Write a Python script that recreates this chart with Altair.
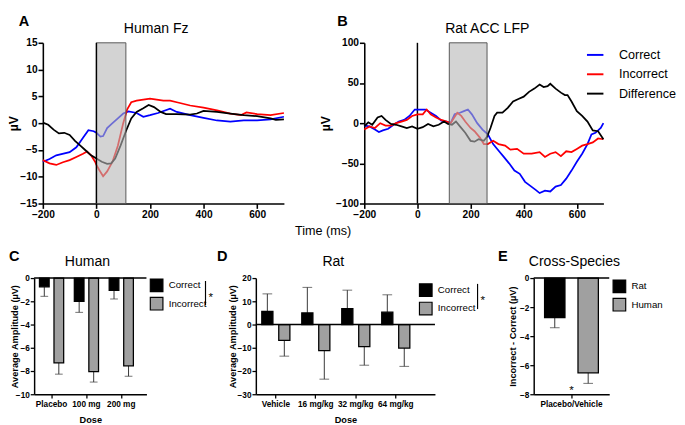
import altair as alt
import pandas as pd

FONT = "Liberation Sans"
SERIES = ["Correct", "Incorrect", "Difference"]
SERIES_COLORS = ["#0000ff", "#ff0000", "#000000"]

a_correct_t = [-200, -175, -150, -100, -75, -50, -30, -10, 0, 15, 25, 40, 60, 80, 100, 120, 150, 175, 200, 230,
               275, 300, 350, 400, 450, 500, 550, 600, 650, 700]
a_correct_v = [-7.2, -6.7, -6.0, -5.4, -4.5, -2.7, -1.3, -1.5, -1.8, -2.5, -2.4, -0.9, 0.0, 0.9, 1.8, 2.2, 1.9,
               1.2, 1.5, 1.9, 2.7, 2.1, 1.5, 1.0, 0.5, 0.3, 0.5, 0.5, 0.7, 1.2]
a_incorrect_t = [-200, -175, -150, -125, -100, -75, -50, -35, -20, -5, 0, 10, 25, 40, 60, 80, 100, 115, 130, 150,
                 175, 200, 225, 250, 275, 300, 350, 400, 450, 500, 540, 560, 600, 650, 700]
a_incorrect_v = [-6.9, -7.5, -7.8, -7.3, -6.9, -6.3, -5.7, -5.3, -6.0, -7.2, -7.8, -8.7, -9.9, -9.0, -7.2, -4.2,
                 0.0, 2.6, 3.9, 4.2, 4.4, 4.6, 4.4, 4.2, 4.2, 3.9, 3.3, 2.9, 2.4, 1.8, 1.5, 2.0, 1.7, 1.5, 1.9]
a_diff_t = [-200, -180, -160, -140, -120, -100, -80, -60, -40, -20, 0, 20, 40, 55, 70, 90, 110, 130, 150, 175,
            195, 215, 240, 260, 300, 350, 375, 400, 450, 500, 550, 600, 650, 670, 700]
a_diff_v = [0.1, -0.3, -1.2, -1.9, -1.8, -2.2, -3.3, -4.2, -5.1, -6.0, -6.6, -7.2, -7.6, -7.5, -6.6, -4.2, -1.5,
            0.9, 2.1, 2.8, 3.4, 3.0, 2.1, 1.7, 1.7, 1.6, 1.8, 2.3, 2.1, 1.8, 1.5, 1.3, 0.9, 0.6, 0.7]
a_shade = [0, 110]

b_correct_t = [-200, -180, -160, -145, -130, -110, -90, -70, -50, -30, -20, -10, 10, 30, 50, 70, 90, 110, 125,
               140, 160, 175, 190, 205, 225, 245, 265, 285, 305, 325, 345, 365, 385, 405, 425, 445, 460, 480,
               500, 520, 540, 560, 580, 600, 620, 640, 655, 670, 690, 700]
b_correct_v = [-3, -4, -8, -11, -9, -7, -2, 2, 4, 9, 13, 17, 17, 17, 13, 9, 3, 2, 0, 11, 13, 15, 17, 11, 0, -8,
               -14, -26, -34, -42, -50, -59, -63, -73, -78, -83, -87, -84, -85, -79, -77, -69, -59, -48, -38,
               -26, -14, -12, -6, 0]
b_incorrect_t = [-200, -180, -160, -140, -120, -100, -80, -60, -40, -20, 0, 20, 35, 50, 70, 90, 110, 125, 150,
                 165, 180, 200, 215, 235, 250, 265, 285, 305, 330, 350, 375, 400, 430, 460, 480, 500, 520, 540,
                 560, 580, 600, 620, 640, 660, 680, 700]
b_incorrect_v = [-8, -4, -6, 0, -3, -3, 0, 2, 4, 9, 11, 11, 17, 11, 7, 4, 2, 0, 13, 9, 2, -6, -10, -18, -26, -26,
                 -22, -26, -28, -33, -32, -38, -38, -36, -42, -38, -36, -41, -35, -36, -32, -28, -26, -24, -19,
                 -20]
b_diff_t = [-200, -185, -170, -150, -135, -120, -100, -80, -60, -40, -20, 0, 20, 40, 60, 80, 100, 115, 130, 145,
            160, 180, 200, 215, 230, 250, 262, 275, 290, 300, 320, 340, 360, 380, 400, 420, 440, 460, 475, 490,
            500, 520, 540, 555, 565, 580, 600, 620, 640, 660, 680, 700]
b_diff_v = [-4, 1, -2, 7, 9, 4, -1, -2, -4, -6, -4, -7, -5, -1, -4, -2, 2, -1, -2, 2, -4, -12, -22, -23, -20, -22,
            -17, -6, 9, 13, 13, 19, 27, 30, 33, 39, 43, 48, 45, 46, 49, 43, 38, 35, 35, 27, 15, 9, 2, -9, -10, -20]
b_shade = [120, 262]

c_groups = ["Placebo", "100 mg", "200 mg"]
c_conds = ["Correct", "Incorrect"]
c_correct = [-0.75, -2.0, -1.05]
c_correct_err = [-1.57, -2.95, -1.8]
c_incorrect = [-7.3, -8.05, -7.55]
c_incorrect_err = [-8.27, -8.95, -8.45]

d_groups = ["Vehicle", "16 mg/kg", "32 mg/kg", "64 mg/kg"]
d_conds = ["Correct", "Incorrect"]
d_correct = [5.7, 5.0, 6.8, 5.3]
d_correct_err = [13.2, 16.0, 14.8, 12.8]
d_incorrect = [-6.8, -11.2, -9.5, -10.1]
d_incorrect_err = [-13.6, -23.5, -17.5, -18.0]

e_groups = ["Placebo/Vehicle"]
e_species = ["Rat", "Human"]
e_values = [-2.72, -6.52]
e_errs = [-3.42, -7.25]

BAR_COLORS = ["#000000", "#a0a0a0"]


def text_layer(text, x, y, size, weight="normal", align="left", baseline="alphabetic", color="black"):
    return alt.Chart(pd.DataFrame({"label": [text]})).mark_text(
        font=FONT, fontSize=size, fontWeight=weight, align=align, baseline=baseline, color=color
    ).encode(text="label:N", x=alt.value(x), y=alt.value(y))


def rule_layer(x, y, y2, width=1.2, color="black"):
    return alt.Chart(pd.DataFrame({"k": [0]})).mark_rule(color=color, strokeWidth=width).encode(
        x=alt.value(x), y=alt.value(y), y2=alt.value(y2))


ERP_AXIS = dict(domainColor="black", domainWidth=1.6, tickColor="black", tickWidth=1.6, tickSize=5,
                labelFont=FONT, labelFontSize=10.5, labelFontWeight="bold", labelColor="black",
                labelPadding=1, labelFlush=False, labelOverlap=False, grid=False,
                titleFont=FONT, titleColor="black")

BAR_AXIS = dict(domainColor="black", domainWidth=1.5, tickColor="black", tickWidth=1.3, tickSize=4,
                labelFont=FONT, labelFontSize=8.5, labelFontWeight="bold", labelColor="black",
                labelPadding=1, labelFlush=False, labelOverlap=False, grid=False,
                titleFont=FONT, titleColor="black", titleFontSize=9.5, titleFontWeight="bold")


def erp_panel(series, shade, ydomain, yticks, W, H, letter, letter_x, title, title_x, ytitle_x,
              show_time, legend, zero_after):
    rows = []
    for name, (ts, vs) in zip(SERIES, series):
        for t, v in zip(ts, vs):
            rows.append({"time": t, "value": v, "series": name})
    df = pd.DataFrame(rows)
    xscale = alt.Scale(domain=[-200, 700], nice=False, zero=False)
    yscale = alt.Scale(domain=ydomain, nice=False, zero=False)
    if show_time:
        xaxis = alt.Axis(values=[-200, 0, 200, 400, 600], title="Time (ms)", titleX=289, titleY=28,
                         titleBaseline="middle", titleFontSize=13, titleFontWeight="normal", **ERP_AXIS)
    else:
        xaxis = alt.Axis(values=[-200, 0, 200, 400, 600], title=None, **ERP_AXIS)
    yaxis = alt.Axis(values=yticks, title="µV", titleX=ytitle_x, titleBaseline="alphabetic",
                     titleFontSize=12.5, titleFontWeight="bold", **ERP_AXIS)
    lines = alt.Chart(df).mark_line(strokeWidth=1.8).encode(
        x=alt.X("time:Q", scale=xscale, axis=xaxis),
        y=alt.Y("value:Q", scale=yscale, axis=yaxis),
        color=alt.Color("series:N", sort=SERIES, scale=alt.Scale(domain=SERIES, range=SERIES_COLORS),
                        legend=legend),
    )
    rect = alt.Chart(pd.DataFrame({"time": [shade[0]], "time_end": [shade[1]]})).mark_rect(
        fill="#b5b5b5", fillOpacity=0.6, stroke="#555555", strokeWidth=1
    ).encode(x=alt.X("time:Q", scale=xscale, axis=xaxis), x2="time_end:Q", y=alt.value(0), y2=alt.value(H))
    zero = alt.Chart(pd.DataFrame({"time": [0]})).mark_rule(color="black", strokeWidth=1.5).encode(
        x=alt.X("time:Q", scale=xscale, axis=xaxis), y=alt.value(0), y2=alt.value(H))
    layers = [lines, rect, zero] if zero_after else [zero, lines, rect]
    layers += [text_layer(letter, letter_x, -17, 15, "bold"),
               text_layer(title, title_x, -10, 14.5, "normal", "center")]
    return alt.layer(*layers).properties(width=W, height=H)


def bar_panel(groups, conds, values, errs, W, H, ydomain, yticks, ytitle, ytitle_x, xtitle,
              x_po, off_pi, off_po, cap, legend_x, legend_y, row_pad, extras):
    gs, cs, vs, es = [], [], [], []
    for ci, c in enumerate(conds):
        for gi, g in enumerate(groups):
            gs.append(g)
            cs.append(c)
            vs.append(values[ci][gi])
            es.append(errs[ci][gi])
    df = pd.DataFrame({"group": gs, "cond": cs, "value": vs, "err": es})
    xaxis_kw = dict(BAR_AXIS)
    xaxis_kw["labelPadding"] = 2
    xaxis = alt.Axis(title=xtitle, labelAngle=0, titlePadding=7, **xaxis_kw)
    yaxis = alt.Axis(values=yticks, title=ytitle, titleX=ytitle_x, titleBaseline="alphabetic", **BAR_AXIS)
    yscale = alt.Scale(domain=ydomain, nice=False)
    xenc = alt.X("group:N", sort=groups, scale=alt.Scale(paddingInner=0, paddingOuter=x_po, align=0),
                 axis=xaxis)
    offenc = alt.XOffset("cond:N", sort=conds, scale=alt.Scale(paddingInner=off_pi, paddingOuter=off_po))
    legend = alt.Legend(orient="none", legendX=legend_x, legendY=legend_y, title=None, symbolType="square",
                        symbolSize=170, symbolStrokeColor="black", symbolStrokeWidth=1.2,
                        labelFont=FONT, labelFontSize=10, labelColor="black", labelOffset=5,
                        rowPadding=row_pad, padding=0)
    errbar = alt.Chart(df).mark_rule(color="#333333", strokeWidth=1).encode(
        x=xenc, xOffset=offenc, y=alt.Y("value:Q", scale=yscale, axis=yaxis), y2="err:Q")
    caps = alt.Chart(df).mark_tick(color="#333333", thickness=1, size=cap, orient="horizontal").encode(
        x=xenc, xOffset=offenc, y=alt.Y("err:Q", scale=yscale, axis=yaxis))
    bars = alt.Chart(df).mark_bar(stroke="black", strokeWidth=1.3).encode(
        x=xenc, xOffset=offenc, y=alt.Y("value:Q", scale=yscale, axis=yaxis),
        color=alt.Color("cond:N", sort=conds, scale=alt.Scale(domain=conds, range=BAR_COLORS), legend=legend))
    zero = alt.Chart(pd.DataFrame({"value": [0]})).mark_rule(color="black", strokeWidth=1.5).encode(
        y=alt.Y("value:Q", scale=yscale, axis=yaxis), x=alt.value(0), x2=alt.value(W))
    return alt.layer(errbar, caps, bars, zero, *extras).properties(width=W, height=H)


def spacer(w):
    return alt.Chart(pd.DataFrame({"k": [0]})).mark_point(opacity=0).encode(
        x=alt.value(0), y=alt.value(0)).properties(width=w, height=1)


A = erp_panel([(a_correct_t, a_correct_v), (a_incorrect_t, a_incorrect_v), (a_diff_t, a_diff_v)],
              a_shade, [-15, 15], [-15, -10, -5, 0, 5, 10, 15], 249, 166, "A", -25, "Human Fz", 117, -26,
              True, None, True)

b_legend = alt.Legend(orient="none", legendX=229, legendY=3, title=None, symbolType="stroke",
                      symbolSize=289, symbolStrokeWidth=2, labelFont=FONT, labelFontSize=13,
                      labelColor="black", labelOffset=15, rowPadding=3, padding=0)
B = erp_panel([(b_correct_t, b_correct_v), (b_incorrect_t, b_incorrect_v), (b_diff_t, b_diff_v)],
              b_shade, [-100, 100], [-100, -50, 0, 50, 100], 247, 166, "B", -28, "Rat ACC LFP", 127, -36,
              False, b_legend, False)

C = bar_panel(c_groups, c_conds, [c_correct, c_incorrect], [c_correct_err, c_incorrect_err],
              116, 120, [-10, 0], [-10, -8, -6, -4, -2, 0], "Average Amplitude (µV)", -17, "Dose",
              0.111, 0.333, 0.367, 8, 119, 0, 0,
              [text_layer("C", -26, -18, 15, "bold"),
               text_layer("Human", 55, -12, 14.5, "normal", "center"),
               rule_layer(177, 3, 28),
               text_layer("*", 180, 24, 12)])

D = bar_panel(d_groups, d_conds, [d_correct, d_incorrect], [d_correct_err, d_incorrect_err],
              185, 120, [-30, 20], [-30, -20, -10, 0, 10, 20], "Average Amplitude (µV)", -21, "Dose",
              0.24, 0.343, 0.35, 10, 168, 5, 0,
              [text_layer("D", -40, -18, 15, "bold"),
               text_layer("Rat", 80, -12, 14.5, "normal", "center"),
               rule_layer(229, 6, 32),
               text_layer("*", 232, 27, 12)])

E = bar_panel(e_groups, e_species, [[e_values[0]], [e_values[1]]], [[e_errs[0]], [e_errs[1]]],
              78, 120, [-8, 0], [-8, -6, -4, -2, 0], "Incorrect - Correct (µV)", -19, None,
              0, 0.39, 0.325, 10, 81, 1, 0,
              [text_layer("E", -37, -18, 15, "bold"),
               text_layer("Cross-Species", 42, -12, 14.5, "normal", "center"),
               text_layer("*", 39, 120, 12, "normal", "center")])

RES = dict(color="independent", x="independent", y="independent", xOffset="independent")

top = alt.hconcat(spacer(9), A, spacer(83), B, spacing=0, bounds="flush").resolve_scale(**RES).resolve_legend(
    color="independent")
bottom = alt.hconcat(C, spacer(113), D, spacer(102), E, spacing=0, bounds="flush").resolve_scale(
    **RES).resolve_legend(color="independent")

chart = alt.vconcat(top, bottom, spacing=12, bounds="full").resolve_scale(**RES).resolve_legend(
    color="independent").properties(
    padding={"left": 0, "top": 0, "right": 0, "bottom": 0}
).configure(font=FONT).configure_view(stroke=None)

chart.save("out.html", embed_options={"renderer": "svg", "actions": False})
